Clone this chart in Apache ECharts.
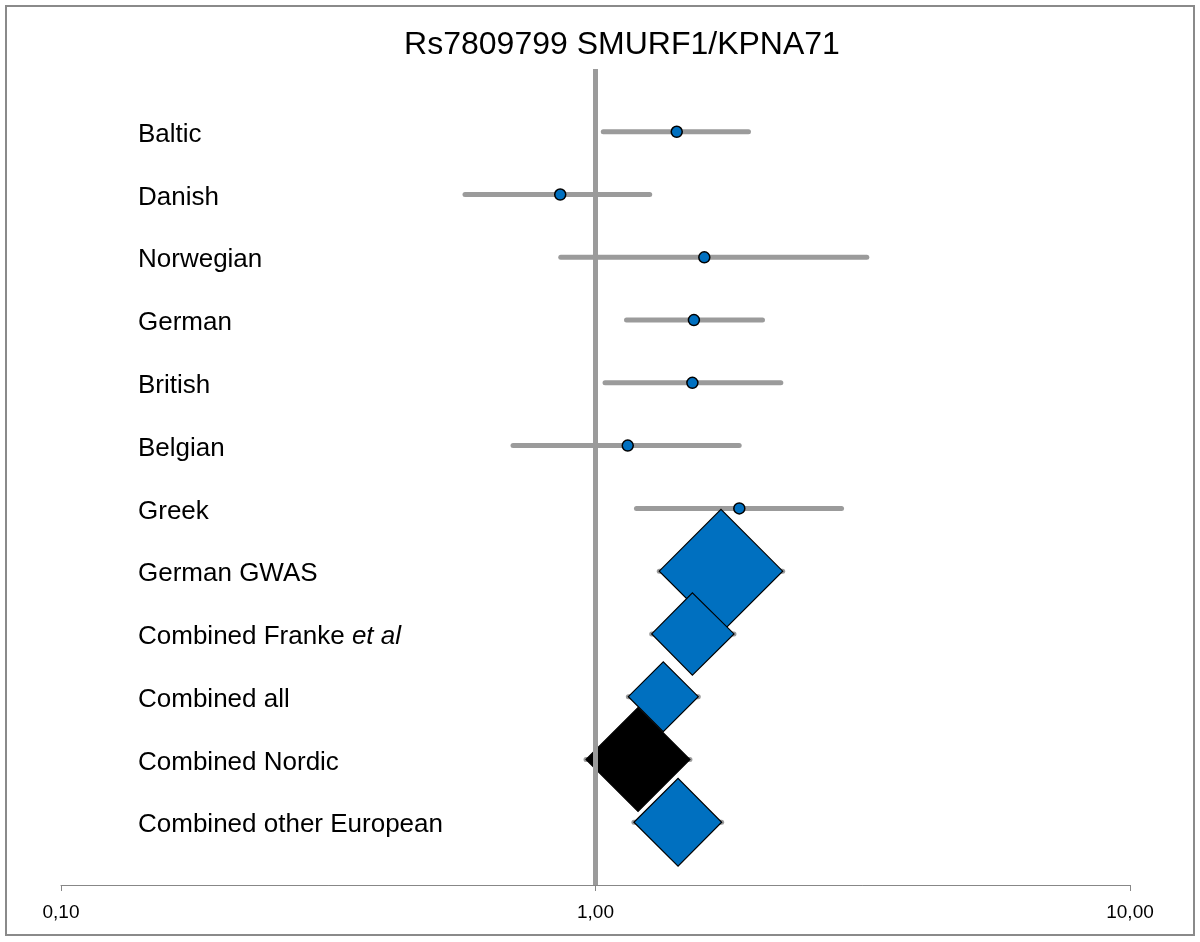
<!DOCTYPE html>
<html>
<head>
<meta charset="utf-8">
<style>
  html, body { margin: 0; padding: 0; background: #fff; }
  #chart { width: 1200px; height: 942px; }
</style>
<script src="https://cdn.jsdelivr.net/npm/echarts@6/dist/echarts.min.js"></script>
</head>
<body>
<div id="chart"></div>
<script>
const title = 'Rs7809799 SMURF1/KPNA71'
const rows = [
  'Baltic', 'Danish', 'Norwegian', 'German', 'British', 'Belgian', 'Greek',
  'German GWAS', 'Combined Franke et al', 'Combined all', 'Combined Nordic', 'Combined other European'
]
// odds ratio and 95% CI per row
const oddsRatio = [1.419, 0.859, 1.598, 1.528, 1.518, 1.149, 1.858, 1.717, 1.518, 1.339, 1.201, 1.427]
const ciLower = [1.034, 0.570, 0.861, 1.143, 1.042, 0.701, 1.193, 1.316, 1.274, 1.152, 0.960, 1.180]
const ciUpper = [1.933, 1.263, 3.218, 2.053, 2.222, 1.857, 2.886, 2.240, 1.816, 1.557, 1.502, 1.722]
// 'study' = single cohort (dot), 'pooled' = meta estimate (diamond)
const rowKind = ['study', 'study', 'study', 'study', 'study', 'study', 'study',
  'pooled', 'pooled', 'pooled', 'pooled', 'pooled']
const xTicks = [0.1, 1, 10]

const FONT = '"Liberation Sans", Arial, sans-serif'
const BLUE = '#0070c0'
const GREY = '#9b9b9b'

const ciData = rows.map((_r, i) => [ciLower[i], ciUpper[i], i])
const dotData = []
const diamondData = []
rows.forEach((name, i) => {
  if (rowKind[i] === 'study') dotData.push([oddsRatio[i], i])
  else diamondData.push([ciLower[i], ciUpper[i], oddsRatio[i], i, name === 'Combined Nordic' ? 1 : 0])
})

const chart = echarts.init(document.getElementById('chart'))

chart.setOption({
  animation: false,
  backgroundColor: '#fff',
  textStyle: { fontFamily: FONT },
  graphic: [
    {
      type: 'rect',
      shape: { x: 6, y: 6, width: 1188, height: 929 },
      style: { fill: 'none', stroke: '#8a8a8a', lineWidth: 2 },
      silent: true
    },
    {
      type: 'text',
      x: 622,
      y: 45,
      style: {
        text: title,
        font: '32px ' + FONT,
        fill: '#000',
        align: 'center',
        verticalAlign: 'middle'
      }
    }
  ],
  grid: { left: 61, right: 70, top: 69, bottom: 57 },
  xAxis: {
    type: 'log',
    logBase: 10,
    min: xTicks[0],
    max: xTicks[xTicks.length - 1],
    splitLine: { show: false },
    axisLine: { onZero: false, lineStyle: { color: '#878787', width: 1 } },
    axisTick: { show: true, length: 6, lineStyle: { color: '#878787' } },
    minorTick: { show: false },
    axisLabel: {
      margin: 18,
      fontSize: 19,
      color: '#000',
      fontFamily: FONT,
      formatter: (v) => Number(v).toFixed(2).replace('.', ',')
    }
  },
  yAxis: {
    type: 'value',
    inverse: true,
    min: -1,
    max: rows.length,
    interval: 1,
    splitLine: { show: false },
    axisLine: { show: false },
    axisTick: { show: false },
    axisLabel: {
      inside: true,
      margin: 77,
      align: 'left',
      verticalAlign: 'top',
      fontSize: 26,
      lineHeight: 26,
      color: '#000',
      fontFamily: FONT,
      padding: [-10, 0, 0, 0],
      formatter: (v) => {
        const name = rows[v]
        if (!name) return ''
        return name.replace(' et al', ' {i|et al}')
      },
      rich: {
        i: { fontStyle: 'italic', fontSize: 26, lineHeight: 26, fontFamily: FONT, color: '#000' }
      }
    }
  },
  series: [
    {
      // reference line at OR = 1
      type: 'line',
      data: [],
      z: 1,
      markLine: {
        silent: true,
        symbol: ['none', 'none'],
        label: { show: false },
        lineStyle: { color: GREY, width: 5, type: 'solid' },
        data: [{ xAxis: 1 }]
      }
    },
    {
      type: 'custom',
      z: 2,
      data: ciData,
      encode: { x: [0, 1], y: 2 },
      renderItem: (params, api) => {
        const a = api.coord([api.value(0), api.value(2)])
        const b = api.coord([api.value(1), api.value(2)])
        return {
          type: 'line',
          shape: { x1: a[0], y1: a[1], x2: b[0], y2: b[1] },
          style: { stroke: GREY, lineWidth: 5, lineCap: 'round' }
        }
      }
    },
    {
      type: 'custom',
      z: 3,
      data: diamondData,
      encode: { x: [0, 1, 2], y: 3 },
      renderItem: (params, api) => {
        const row = api.value(3)
        const l = api.coord([api.value(0), row])
        const r = api.coord([api.value(1), row])
        const c = api.coord([api.value(2), row])
        const h = (r[0] - l[0]) / 2
        return {
          type: 'polygon',
          shape: { points: [l, [c[0], c[1] - h], r, [c[0], c[1] + h]] },
          style: { fill: api.value(4) ? '#000' : BLUE, stroke: '#000', lineWidth: 1.2 }
        }
      }
    },
    {
      type: 'scatter',
      z: 4,
      data: dotData,
      symbol: 'circle',
      symbolSize: 11,
      itemStyle: { color: BLUE, borderColor: '#000', borderWidth: 1.5, opacity: 1 }
    }
  ]
})
</script>
</body>
</html>
